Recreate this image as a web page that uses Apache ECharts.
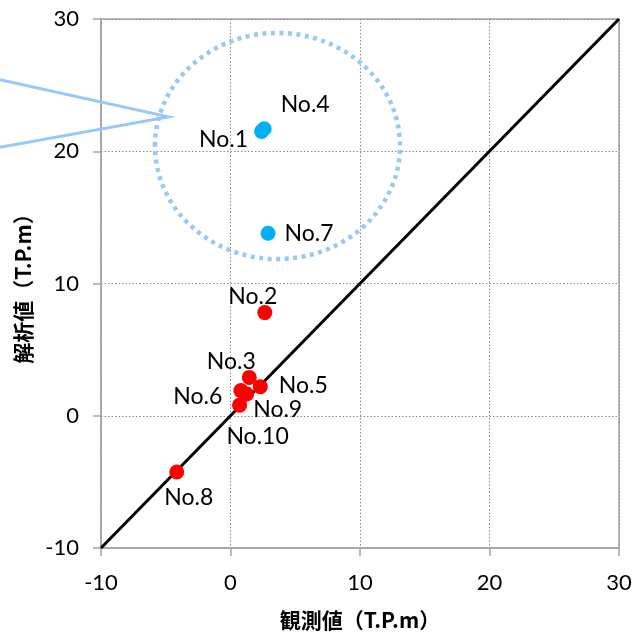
<!DOCTYPE html>
<html><head><meta charset="utf-8">
<script src="https://cdn.jsdelivr.net/npm/echarts@6/dist/echarts.min.js"></script>
<style>html,body{margin:0;padding:0;background:#fff;overflow:hidden}#c{width:632px;height:635px}</style>
</head><body><div id="c"></div>
<script>
// ---- data ----
const xAxisName = '観測値（T.P.m）';
const yAxisName = '解析値（T.P.m）';
const axisMin = -10, axisMax = 30, axisStep = 10;
const blueNames = ['No.1', 'No.4', 'No.7'];
const blueObs   = [2.4, 2.6, 2.9];
const blueCalc  = [21.5, 21.7, 13.8];
const redNames  = ['No.2', 'No.3', 'No.5', 'No.6', 'No.9', 'No.10', 'No.8'];
const redObs    = [2.65, 1.45, 2.3, 0.8, 1.25, 0.7, -4.15];
const redCalc   = [7.8, 2.9, 2.2, 1.9, 1.65, 0.8, -4.25];
const diagLine  = [[-10, -10], [30, 30]];
// annotation (data coords)
const circleCenter = [3.63, 20.4];
const circleRadius = [9.46, 8.55];
const calloutTip = [-4.8, 22.6];
const calloutEnds = [[-17.8, 25.4], [-17.8, 20.3]];

// label placement (px offsets from point center)
const labelOffset = {
  'No.1': [-38, 8], 'No.4': [41, -24], 'No.7': [41, 0],
  'No.2': [-12, -16], 'No.3': [-18, -16], 'No.5': [43, -1],
  'No.6': [-43, 6], 'No.9': [31, 16], 'No.10': [18, 31], 'No.8': [12, 26]
};
const FONT = 'Lato, "Liberation Sans", sans-serif';

function mk(names, xs, ys) {
  return names.map((n, i) => ({
    name: n, value: [xs[i], ys[i]],
    label: { offset: labelOffset[n] }
  }));
}

const chart = echarts.init(document.getElementById('c'));
const axisCommon = {
  type: 'value', min: axisMin, max: axisMax, interval: axisStep,
  nameLocation: 'middle',
  nameTextStyle: { fontFamily: '"Noto Sans CJK JP", sans-serif', fontWeight: 'bold', fontSize: 21, color: '#000' },
  axisLine: { show: true, onZero: false, lineStyle: { color: '#a6a6a6', width: 1.5 } },
  axisTick: { show: true, inside: false, length: 8, lineStyle: { color: '#a6a6a6', width: 1.5 } },
  axisLabel: { fontFamily: FONT, fontSize: 22, color: '#000' },
  splitLine: { show: true, lineStyle: { color: '#8c8c8c', type: [1.5, 2], width: 1 } }
};
const labelCommon = {
  show: true, position: 'inside', align: 'center', verticalAlign: 'middle',
  formatter: '{b}', fontFamily: FONT, fontSize: 23, color: '#000'
};
chart.setOption({
  animation: false,
  grid: { left: 101, right: 13, top: 19, bottom: 87, containLabel: false, outerBoundsMode: 'none',
    show: true, borderColor: '#a6a6a6', borderWidth: 1.5, backgroundColor: 'transparent' },
  xAxis: Object.assign({}, axisCommon, { name: xAxisName, nameGap: 62,
    axisLabel: Object.assign({}, axisCommon.axisLabel, { margin: 24 }) }),
  yAxis: Object.assign({}, axisCommon, { name: yAxisName, nameGap: 67,
    axisLabel: Object.assign({}, axisCommon.axisLabel, { margin: 22 }) }),
  series: [
    { type: 'line', data: diagLine, symbol: 'none', lineStyle: { color: '#000', width: 3 }, z: 3, silent: true },
    { type: 'scatter', data: mk(redNames, redObs, redCalc), symbolSize: 15,
      itemStyle: { color: '#ff0000', opacity: 1 }, label: labelCommon, z: 5 },
    { type: 'scatter', data: mk(blueNames, blueObs, blueCalc), symbolSize: 15,
      itemStyle: { color: '#00b0f0', opacity: 1 }, label: labelCommon, z: 5 }
  ]
});

const P = p => chart.convertToPixel({ gridIndex: 0 }, p);
const c = P(circleCenter);
const rx = P([circleCenter[0] + circleRadius[0], circleCenter[1]])[0] - c[0];
const ry = c[1] - P([circleCenter[0], circleCenter[1] + circleRadius[1]])[1];
const tip = P(calloutTip);
const e1 = P(calloutEnds[0]), e2 = P(calloutEnds[1]);
const annColor = '#99c7f7';
chart.setOption({
  graphic: [
    { type: 'ellipse', shape: { cx: c[0], cy: c[1], rx: rx, ry: ry }, z: 10,
      style: { fill: 'none', stroke: annColor, lineWidth: 4.5, lineDash: [4, 4.5] } },
    { type: 'polyline', shape: { points: [e1, tip, e2] }, z: 10,
      style: { fill: 'none', stroke: annColor, lineWidth: 3 } }
  ]
});
</script></body></html>
